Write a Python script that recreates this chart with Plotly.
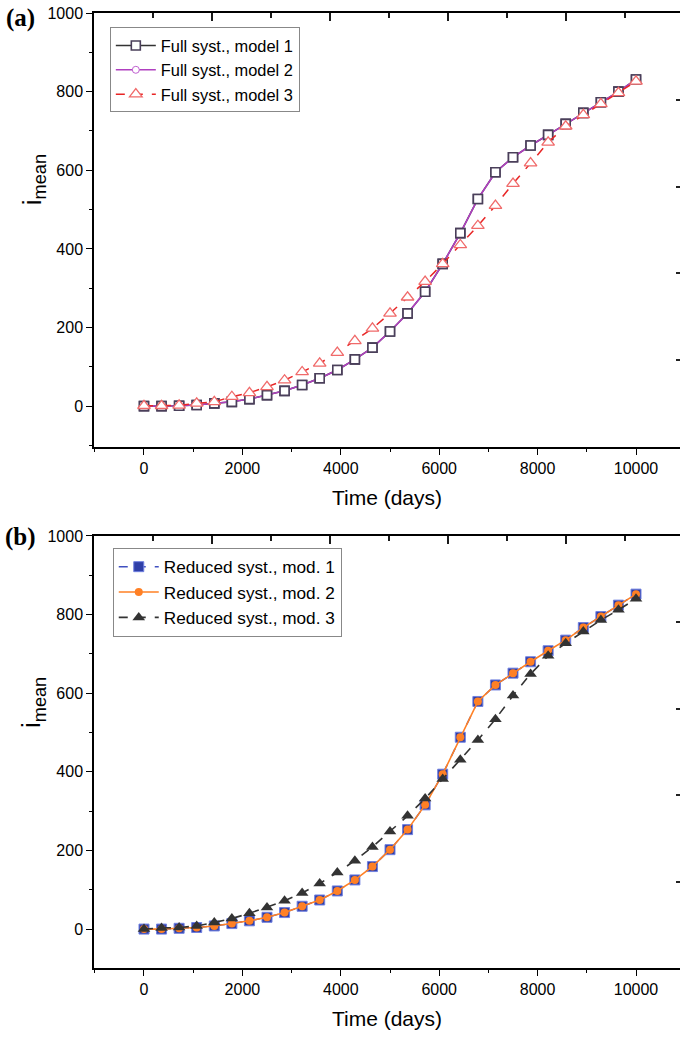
import plotly.graph_objects as go

# ---- data ----
time_days = [0, 357, 714, 1071, 1429, 1786, 2143, 2500, 2857, 3214, 3571, 3929,
             4286, 4643, 5000, 5357, 5714, 6071, 6429, 6786, 7143, 7500, 7857,
             8214, 8571, 8929, 9286, 9643, 10000]

full_model1 = [0, 0, 1, 3, 7, 11, 18, 28, 39, 54, 71, 92, 119, 149, 190, 236,
               291, 362, 440, 527, 595, 633, 663, 690, 718, 746, 773, 800, 831]
full_model2 = [0, 0, 1, 3, 7, 11, 18, 28, 39, 54, 71, 92, 119, 149, 190, 236,
               291, 362, 440, 527, 595, 633, 663, 690, 718, 746, 773, 800, 831]
full_model3 = [1, 1, 2, 7, 11, 24, 34, 49, 66, 87, 109, 136, 166, 198, 236, 277,
               317, 362, 410, 459, 510, 566, 618, 671, 712, 741, 769, 797, 826]

red_model1 = [0, 0, 2, 4, 8, 14, 21, 30, 42, 58, 74, 97, 125, 159, 202, 253,
              316, 394, 488, 579, 621, 651, 680, 708, 735, 767, 795, 824, 852]
red_model2 = [0, 0, 2, 4, 8, 14, 21, 30, 42, 58, 74, 97, 125, 159, 202, 253,
              316, 394, 488, 579, 621, 651, 680, 708, 735, 767, 795, 824, 852]
red_model3 = [0, 3, 4, 8, 17, 27, 40, 55, 72, 92, 116, 144, 174, 209, 248, 288,
              332, 382, 431, 481, 534, 594, 649, 695, 727, 757, 786, 812, 840]

names_a = ["Full syst., model 1", "Full syst., model 2", "Full syst., model 3"]
names_b = ["Reduced syst., mod. 1", "Reduced syst., mod. 2", "Reduced syst., mod. 3"]

x_ticks = [0, 2000, 4000, 6000, 8000, 10000]
x_ticktext = ["0", "2000", "4000", "6000", "8000", "10000"]
y_ticks = [0, 200, 400, 600, 800, 1000]
y_ticktext = ["0", "200", "400", "600", "800", "1000"]

FONT = "Liberation Sans, Arial, sans-serif"

X_RANGE = [-1016, 10894]
YA_RANGE = [-104, 1000]
YB_RANGE = [-99, 1000]
PLOT_W = 680 - 94
PLOT_H = 1037 - 13 - 69

fig = go.Figure()

# ---- panel (a) ----
sq_a = dict(symbol="square", size=9, color="white", line=dict(color="#4a3f5a", width=1.6))
fig.add_trace(go.Scatter(x=time_days, y=full_model1, name=names_a[0], mode="lines+markers",
                         line=dict(color="#333333", width=1.5), marker=sq_a,
                         xaxis="x", yaxis="y", legend="legend", legendrank=1))
fig.add_trace(go.Scatter(x=time_days, y=full_model2, name=names_a[1], mode="lines+markers",
                         line=dict(color="#B040C0", width=1.6),
                         marker=dict(symbol="circle", size=7, color="white",
                                     line=dict(color="#C060D0", width=1)),
                         xaxis="x", yaxis="y", legend="legend", legendrank=2))
fig.add_trace(go.Scatter(x=time_days, y=full_model1, mode="markers", marker=sq_a,
                         showlegend=False, xaxis="x", yaxis="y", hoverinfo="skip"))
fig.add_trace(go.Scatter(x=time_days, y=full_model3, name=names_a[2], mode="lines+markers",
                         line=dict(color="#E82525", width=1.5, dash="dash"),
                         marker=dict(symbol="triangle-up", size=11, color="white",
                                     line=dict(color="#F06a6a", width=1.3)),
                         xaxis="x", yaxis="y", legend="legend", legendrank=3))

# ---- panel (b) ----
fig.add_trace(go.Scatter(x=time_days, y=red_model1, name=names_b[0], mode="lines+markers",
                         line=dict(color="#4050C0", width=1.5, dash="dash"),
                         marker=dict(symbol="square", size=10, color="#2F3FA8",
                                     line=dict(color="#7080E0", width=1)),
                         xaxis="x2", yaxis="y2", legend="legend2", legendrank=1))
fig.add_trace(go.Scatter(x=time_days, y=red_model2, name=names_b[1], mode="lines+markers",
                         line=dict(color="#FF8025", width=1.6),
                         marker=dict(symbol="circle", size=8, color="#FF8025"),
                         xaxis="x2", yaxis="y2", legend="legend2", legendrank=2))
fig.add_trace(go.Scatter(x=time_days, y=red_model3, name=names_b[2], mode="lines+markers",
                         line=dict(color="#333333", width=1.6, dash="dash"),
                         marker=dict(symbol="triangle-up", size=11, color="#333333"),
                         xaxis="x2", yaxis="y2", legend="legend2", legendrank=3))

# helper traces (no visible marks) so the decorative right-edge tick axes get drawn
for xa, ya in [("x", "y3"), ("x2", "y4")]:
    fig.add_trace(go.Scatter(x=[None], y=[None], xaxis=xa, yaxis=ya, showlegend=False,
                             mode="markers", hoverinfo="skip"))

dom_a = [0.5455, 1.0]
dom_b = [0.0, 0.4524]

xcommon = dict(range=X_RANGE, tickmode="array", tickvals=x_ticks, ticktext=x_ticktext,
               ticks="outside", ticklen=6,
               tickwidth=1.3, showline=True, linecolor="black", linewidth=1.5,
               mirror=True, showgrid=False, zeroline=False,
               minor=dict(dtick=1000, ticks="outside", ticklen=3, tickwidth=1.3,
                          tickcolor="black", showgrid=False),
               tickcolor="black", tickfont=dict(family=FONT, size=16, color="black"),
               title=dict(text="Time (days)", font=dict(family=FONT, size=21, color="black"),
                          standoff=14))
ycommon = dict(tickmode="array", tickvals=y_ticks, ticktext=y_ticktext,
               ticks="outside", ticklen=6, tickwidth=1.3,
               showline=True, linecolor="black", linewidth=1.5, mirror=False,
               showgrid=False, zeroline=False,
               minor=dict(dtick=100, ticks="outside", ticklen=3, tickwidth=1.3,
                          tickcolor="black", showgrid=False),
               tickcolor="black", tickfont=dict(family=FONT, size=16, color="black"))
rightcommon = dict(type="linear", side="right", anchor="free", position=1, range=[0, 5], dtick=1,
                   ticks="inside", ticklen=4, tickwidth=1.5, tickcolor="#222222",
                   showticklabels=False, showline=False, showgrid=False, zeroline=False)

fig.update_layout(
    width=680, height=1037,
    margin=dict(l=94, r=0, t=13, b=69),
    paper_bgcolor="white", plot_bgcolor="white",
    font=dict(family=FONT, color="black"),
    xaxis=dict(**xcommon, anchor="y", domain=[0, 1]),
    yaxis=dict(**ycommon, range=YA_RANGE, anchor="x", domain=dom_a),
    xaxis2=dict(**xcommon, anchor="y2", domain=[0, 1]),
    yaxis2=dict(**ycommon, range=YB_RANGE, anchor="x2", domain=dom_b),
    yaxis3=dict(**rightcommon, overlaying="y", domain=dom_a),
    yaxis4=dict(**rightcommon, overlaying="y2", domain=dom_b),
    legend=dict(x=0.027, y=0.985, xanchor="left", yanchor="top",
                bordercolor="#888888", borderwidth=1, bgcolor="white",
                font=dict(family=FONT, size=16.4, color="black"),
                tracegroupgap=0, itemwidth=40),
    legend2=dict(x=0.032, y=0.4398, xanchor="left", yanchor="top",
                 bordercolor="#888888", borderwidth=1, bgcolor="white",
                 font=dict(family=FONT, size=17.2, color="black"),
                 tracegroupgap=0, itemwidth=40),
    showlegend=True,
)

# decorative tick marks hanging from the top frame (frame's own spacing:
# a major every 118 px, a minor half way), drawn as paper-referenced shapes
for top in [dom_a[1], dom_b[1]]:
    for k in range(1, 10):
        length = 8 if k % 2 == 0 else 5
        xf = k * 59.0 / PLOT_W
        fig.add_shape(type="line", xref="paper", yref="paper", x0=xf, x1=xf,
                      y0=top, y1=top - length / PLOT_H,
                      line=dict(color="black", width=1.8), layer="above")

# y-axis titles (placed off-centre, as in the original)
for ytitle in [0.825, 0.2775]:
    fig.add_annotation(text="i<sub>mean</sub>", xref="paper", yref="paper", x=-0.104, y=ytitle,
                       xanchor="center", yanchor="middle", textangle=-90, showarrow=False,
                       font=dict(family=FONT, size=26, color="black"))

fig.add_annotation(text="<b>(a)</b>", xref="paper", yref="paper", x=-0.125, y=0.995,
                   xanchor="center", yanchor="middle", showarrow=False,
                   font=dict(family="Liberation Serif, Times New Roman, serif", size=25,
                             color="black"))
fig.add_annotation(text="<b>(b)</b>", xref="paper", yref="paper", x=-0.125, y=0.451,
                   xanchor="center", yanchor="middle", showarrow=False,
                   font=dict(family="Liberation Serif, Times New Roman, serif", size=25,
                             color="black"))

fig.write_html("out.html")
